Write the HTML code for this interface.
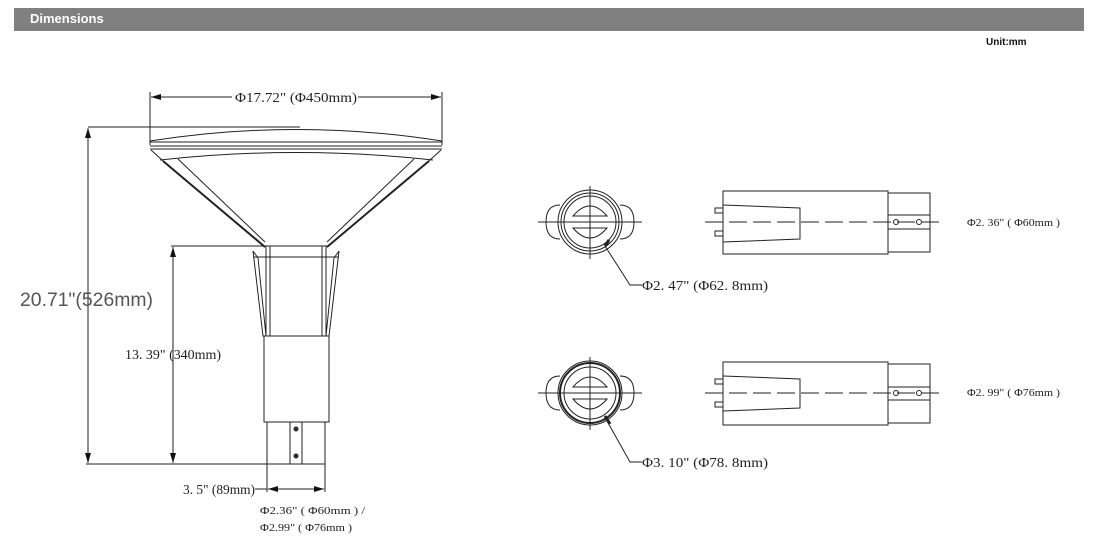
<!DOCTYPE html>
<html><head><meta charset="utf-8"><style>
html,body{margin:0;padding:0;background:#fff;}
body{width:1094px;height:547px;position:relative;overflow:hidden;font-family:"Liberation Sans",sans-serif;}
.bar{position:absolute;left:14px;top:8px;width:1070px;height:23px;background:#808080;}
.bar span{position:absolute;left:16px;top:3px;color:#fff;font-weight:bold;font-size:13px;}
.unit{position:absolute;left:986px;top:37px;font-size:10px;font-weight:bold;color:#111;}
svg{position:absolute;left:0;top:0;}
text{font-family:"Liberation Serif",serif;fill:#222;}
</style></head><body>
<div class="bar"><span>Dimensions</span></div>
<div class="unit">Unit:mm</div>
<svg width="1094" height="547" viewBox="0 0 1094 547">
<defs>
<marker id="a" viewBox="0 0 10 6" refX="10" refY="3" markerWidth="10" markerHeight="6" orient="auto-start-reverse" markerUnits="userSpaceOnUse"><path d="M0,0L10,3L0,6z" fill="#111"/></marker>
</defs>
<g stroke="#222" stroke-width="1" fill="none">
<!-- top dimension -->
<line x1="151" y1="97" x2="232" y2="97" marker-start="url(#a)"/>
<line x1="358" y1="97" x2="441" y2="97" marker-end="url(#a)"/>
<line x1="150" y1="92" x2="150" y2="145"/>
<line x1="442" y1="92" x2="442" y2="145"/>
<!-- lamp head -->
<path d="M150,141 Q296,118 442,141"/>
<line x1="150" y1="142" x2="442" y2="142"/>
<line x1="150" y1="146" x2="442" y2="146"/>
<line x1="150" y1="149" x2="442" y2="149"/>
<path d="M160,160 Q296,145 433,160"/>
<path d="M151,150 L162,160 L265,247"/>
<path d="M163,161 L265,247" stroke-width="2"/>
<path d="M178,159 L265,242"/>
<path d="M441,150 L430,160 L327,247"/>
<path d="M429,161 L327,247" stroke-width="2"/>
<path d="M414,159 L327,242"/>
<line x1="265" y1="246" x2="327" y2="246"/>
<line x1="253" y1="257" x2="339" y2="257"/>
<!-- fins -->
<path d="M253,251 L263,336 L266,336 L258,258 Z"/>
<path d="M339,251 L329,336 L326,336 L334,258 Z"/>
<line x1="266" y1="246" x2="266" y2="336"/>
<line x1="270" y1="246" x2="270" y2="336"/>
<line x1="326" y1="246" x2="326" y2="336"/>
<line x1="322" y1="246" x2="322" y2="336"/>
<!-- pole -->
<rect x="264" y="336" width="65" height="86"/>
<rect x="267" y="422" width="58" height="42"/>
<line x1="290" y1="422" x2="290" y2="464"/>
<line x1="302" y1="422" x2="302" y2="464"/>
<circle cx="296" cy="429" r="2" fill="#333"/>
<circle cx="296" cy="456" r="2" fill="#333"/>
<!-- left dims -->
<line x1="88" y1="127" x2="300" y2="127"/>
<line x1="88" y1="128" x2="88" y2="463" marker-start="url(#a)" marker-end="url(#a)"/>
<line x1="171" y1="246" x2="266" y2="246"/>
<line x1="173" y1="247" x2="173" y2="463" marker-start="url(#a)" marker-end="url(#a)"/>
<line x1="86" y1="464" x2="325" y2="464"/>
<!-- bottom dim -->
<line x1="267" y1="464" x2="267" y2="492"/>
<line x1="325" y1="464" x2="325" y2="492"/>
<line x1="255" y1="489" x2="267" y2="489"/>
<line x1="268" y1="489" x2="324" y2="489" marker-start="url(#a)" marker-end="url(#a)"/>
</g>
<text x="235" y="102" font-size="14" textLength="122" lengthAdjust="spacingAndGlyphs">Φ17.72" (Φ450mm)</text>
<text x="20" y="306" font-size="19" font-family="Liberation Sans" style="font-family:'Liberation Sans',sans-serif;fill:#555" textLength="133" lengthAdjust="spacingAndGlyphs">20.71"(526mm)</text>
<text x="125" y="359" font-size="14" textLength="96" lengthAdjust="spacingAndGlyphs">13. 39" (340mm)</text>
<text x="183" y="494" font-size="14" textLength="72" lengthAdjust="spacingAndGlyphs">3. 5" (89mm)</text>
<text x="260" y="514" font-size="10.5" textLength="105" lengthAdjust="spacingAndGlyphs">Φ2.36" ( Φ60mm ) /</text>
<text x="260" y="531" font-size="10.5" textLength="92" lengthAdjust="spacingAndGlyphs">Φ2.99" ( Φ76mm )</text>

<!-- right top -->
<g stroke="#222" stroke-width="1" fill="none">
<path d="M560,205 Q546,205 546,222 Q546,239 560,239"/>
<path d="M620,205 Q634,205 634,222 Q634,239 620,239"/>
<circle cx="590" cy="222" r="32" fill="#fff"/>
<circle cx="590" cy="222" r="29"/>
<circle cx="590" cy="222" r="26"/>
<path d="M573,216 Q590,196 607,216 Z"/>
<path d="M573,228 Q590,248 607,228 Z"/>
<line x1="538" y1="222" x2="642" y2="222"/>
<line x1="590" y1="186" x2="590" y2="259"/>
<path d="M605,246 L630,285 L642,285"/>
<line x1="605" y1="246" x2="609" y2="240" stroke-width="3"/>
<rect x="723" y="191" width="165" height="63"/>
<rect x="888" y="193" width="42" height="59"/>
<line x1="888" y1="215" x2="930" y2="215"/>
<line x1="888" y1="229" x2="930" y2="229"/>
<path d="M723,205 L800,208 L800,239 L723,242"/>
<rect x="715" y="208" width="8" height="5"/>
<rect x="715" y="231" width="8" height="5"/>
<line x1="705" y1="222" x2="945" y2="222" stroke-dasharray="18,6"/>
<circle cx="896" cy="222" r="2.5"/>
<circle cx="919" cy="222" r="2.5"/>
</g>
<text x="642" y="290" font-size="14" textLength="126" lengthAdjust="spacingAndGlyphs">Φ2. 47" (Φ62. 8mm)</text>
<text x="967" y="226" font-size="10.5" textLength="93" lengthAdjust="spacingAndGlyphs">Φ2. 36" ( Φ60mm )</text>

<!-- right bottom -->
<g stroke="#222" stroke-width="1" fill="none">
<path d="M560,376 Q546,376 546,393 Q546,410 560,410"/>
<path d="M620,376 Q634,376 634,393 Q634,410 620,410"/>
<circle cx="590" cy="393" r="32" fill="#fff"/>
<circle cx="590" cy="393" r="30" stroke-width="2"/>
<circle cx="590" cy="393" r="26"/>
<path d="M573,387 Q590,367 607,387 Z"/>
<path d="M573,399 Q590,419 607,399 Z"/>
<line x1="538" y1="393" x2="642" y2="393"/>
<line x1="590" y1="357" x2="590" y2="430"/>
<path d="M607,421 L630,462 L642,462"/>
<line x1="605" y1="416" x2="610" y2="424" stroke-width="3"/>
<rect x="723" y="362" width="165" height="63"/>
<rect x="888" y="364" width="42" height="59"/>
<line x1="888" y1="387" x2="930" y2="387"/>
<line x1="888" y1="400" x2="930" y2="400"/>
<path d="M723,376 L800,379 L800,408 L723,411"/>
<rect x="715" y="379" width="8" height="5"/>
<rect x="715" y="402" width="8" height="5"/>
<line x1="705" y1="393" x2="945" y2="393" stroke-dasharray="18,6"/>
<circle cx="896" cy="393" r="2.5"/>
<circle cx="919" cy="393" r="2.5"/>
</g>
<text x="642" y="467" font-size="14" textLength="126" lengthAdjust="spacingAndGlyphs">Φ3. 10" (Φ78. 8mm)</text>
<text x="967" y="396" font-size="10.5" textLength="93" lengthAdjust="spacingAndGlyphs">Φ2. 99" ( Φ76mm )</text>
</svg>
</body></html>
